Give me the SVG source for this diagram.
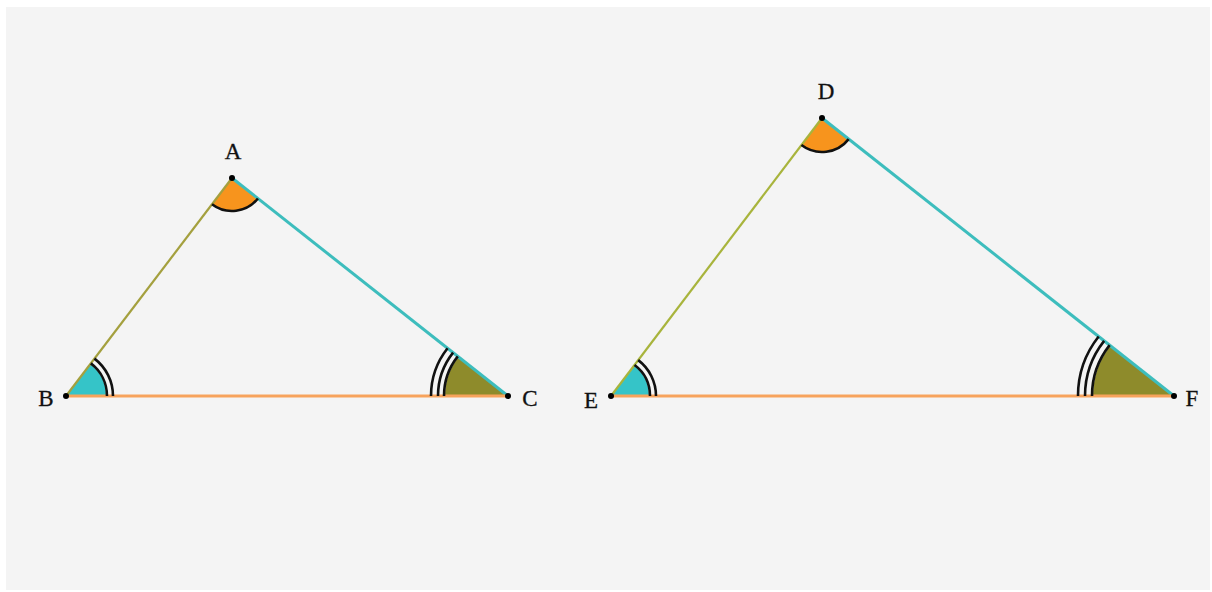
<svg xmlns="http://www.w3.org/2000/svg" width="1212" height="592" viewBox="0 0 1212 592">
<style>
.lbl{font-family:"Liberation Serif","DejaVu Serif",serif;font-size:23px;fill:#111;stroke:#111;stroke-width:0.3;text-anchor:middle}
.arc{fill:none;stroke:#111;stroke-width:2.6}
.teal{fill:#35c4c8}
.org{fill:#f7941d}
.olv{fill:#8e8b2b}
.dot{fill:#000}
</style>
<rect x="0" y="0" width="1212" height="592" fill="#fff"/>
<rect x="6" y="7" width="1204" height="583" fill="#f4f4f4"/>
<g id="fills">
<path class="teal" d="M66 396 L106 396 A40 40 0 0 0 90.23 364.18 Z"/>
<path class="olv" d="M508 396 L445 396 A63 63 0 0 1 458.56 356.95 Z"/>
<path class="org" d="M232 178 L212.01 204.25 A33 33 0 0 0 257.9 198.46 Z"/>
<path class="teal" d="M611 396 L649 396 A38 38 0 0 0 633.97 365.73 Z"/>
<path class="olv" d="M1174 396 L1093 396 A81 81 0 0 1 1110.43 345.8 Z"/>
<path class="org" d="M822 118 L801.44 145.08 A34 34 0 0 0 848.68 139.07 Z"/>
</g>
<g id="connectors">
<line x1="66" y1="396" x2="232" y2="178" stroke="#a4a03e" stroke-width="2.2"/>
<line x1="232" y1="178" x2="508" y2="396" stroke="#3dbdbd" stroke-width="3"/>
<line x1="66" y1="396" x2="508" y2="396" stroke="#f7a35c" stroke-width="3"/>
<line x1="611" y1="396" x2="822" y2="118" stroke="#a8b43c" stroke-width="2.2"/>
<line x1="822" y1="118" x2="1174" y2="396" stroke="#3dbdbd" stroke-width="3"/>
<line x1="611" y1="396" x2="1174" y2="396" stroke="#f7a35c" stroke-width="3"/>
</g>
<g id="arcs">
<path class="arc" d="M107 396 A41 41 0 0 0 90.84 363.38"/>
<path class="arc" d="M113 396 A47 47 0 0 0 94.47 358.61"/>
<path class="arc" d="M444 396 A64 64 0 0 1 457.77 356.33"/>
<path class="arc" d="M438 396 A70 70 0 0 1 453.06 352.61"/>
<path class="arc" d="M431 396 A77 77 0 0 1 447.57 348.27"/>
<path class="arc" d="M212.01 204.25 A33 33 0 0 0 257.9 198.46"/>
<path class="arc" d="M650 396 A39 39 0 0 0 634.58 364.93"/>
<path class="arc" d="M656 396 A45 45 0 0 0 638.21 360.15"/>
<path class="arc" d="M1092 396 A82 82 0 0 1 1109.65 345.18"/>
<path class="arc" d="M1085 396 A89 89 0 0 1 1104.15 340.84"/>
<path class="arc" d="M1078 396 A96 96 0 0 1 1098.66 336.5"/>
<path class="arc" d="M801.44 145.08 A34 34 0 0 0 848.68 139.07"/>
</g>
<g id="node-A"><circle class="dot" cx="232" cy="178" r="3"/><text class="lbl" x="233" y="159">A</text></g>
<g id="node-B"><circle class="dot" cx="66" cy="396" r="3"/><text class="lbl" x="46" y="406">B</text></g>
<g id="node-C"><circle class="dot" cx="508" cy="396" r="3"/><text class="lbl" x="530" y="406">C</text></g>
<g id="node-D"><circle class="dot" cx="822" cy="118" r="3"/><text class="lbl" x="826" y="99">D</text></g>
<g id="node-E"><circle class="dot" cx="611" cy="396" r="3"/><text class="lbl" x="591" y="408">E</text></g>
<g id="node-F"><circle class="dot" cx="1174" cy="396" r="3"/><text class="lbl" x="1192" y="406">F</text></g>
</svg>
